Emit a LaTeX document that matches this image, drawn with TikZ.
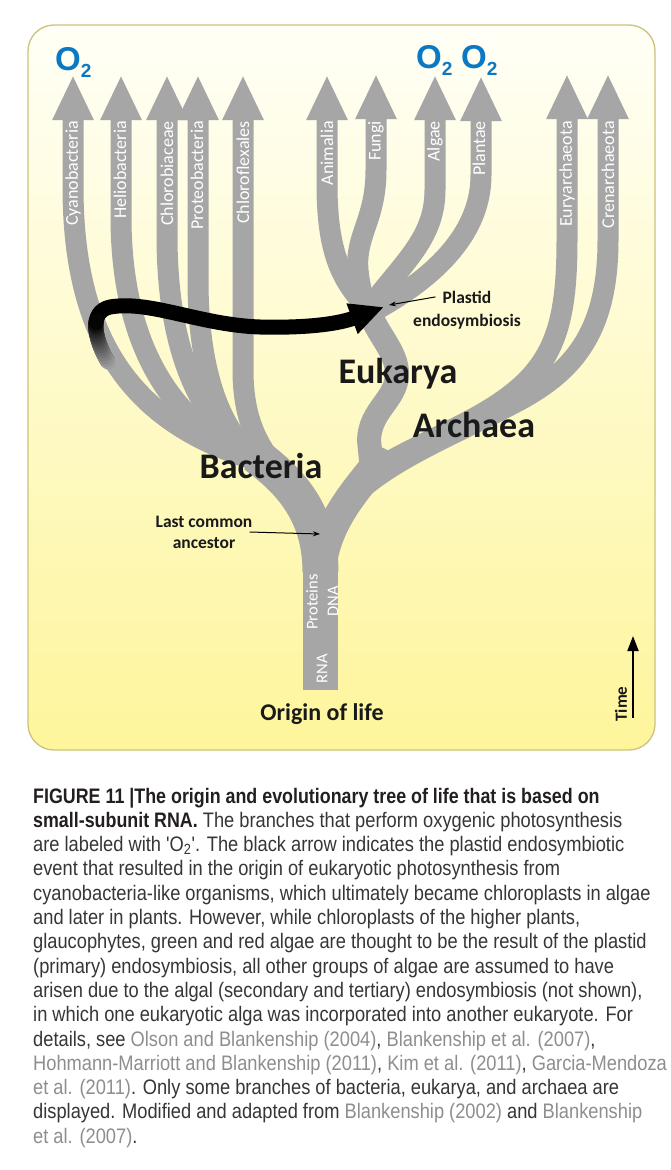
\documentclass[tikz,border=0pt]{standalone}
\usepackage{fontspec}
\setmainfont{Carlito}
\newfontfamily\capfont{Liberation Sans}[FakeStretch=0.87, BoldFeatures={FakeStretch=0.85}]
\newfontfamily\oxfont{Liberation Sans}
\usetikzlibrary{arrows.meta}
\definecolor{branchgray}{HTML}{A6A6A6}
\definecolor{oxblue}{HTML}{0A78C3}
\definecolor{boxline}{HTML}{CBC37C}
\definecolor{boxtop}{HTML}{FFFFF7}
\definecolor{boxbottom}{HTML}{FEF59B}
\definecolor{captext}{HTML}{363636}
\definecolor{capbold}{HTML}{231F20}
\definecolor{refgray}{HTML}{8E8E8E}
\newcommand{\refcite}[1]{\textcolor{refgray}{#1}}
\newcommand{\oxsub}{\raisebox{-7pt}{\fontsize{19}{19}\selectfont 2}}

\begin{document}
\begin{tikzpicture}[x=1pt, y=-1pt, >={Stealth[length=7pt,width=5pt]},
  lineage/.style={draw=branchgray, line width=21pt, line cap=round, {Triangle[length=45pt,width=38pt]}-},
  stem/.style={draw=branchgray, line cap=butt},
  taxon/.style={rotate=90, anchor=east, inner sep=0pt, text=white, font=\fontsize{18}{18}\selectfont},
  kingdom/.style={anchor=base, inner sep=0pt, text=black!90, font=\bfseries\fontsize{36}{36}\selectfont},
  note/.style={align=center, inner sep=1pt, text=black!90, font=\bfseries\fontsize{17.5}{21}\selectfont},
  oxy/.style={anchor=base west, inner sep=0pt, text=oxblue, font=\oxfont\bfseries\fontsize{33}{33}\selectfont},
  capline/.style={anchor=base west, inner sep=0pt, text=captext, font=\capfont\fontsize{21}{24}\selectfont}]
	% 1. 背景与黄色框
	\fill[white] (0,0) rectangle (671,1170);
	\useasboundingbox (0,0) rectangle (671,1170);
	\draw[draw=boxline, line width=1.3pt, rounded corners=26pt, top color=boxtop, bottom color=boxbottom] (28,25) rectangle (655,750);
	
	% 2. 主干与分叉
	\draw[stem, line width=35pt] (320.5,690) -- (320.5,560);
	\draw[stem, line width=36pt] (255,455) .. controls (292,482) and (320.5,515) .. (320.5,572);
	\draw[stem, line width=30pt, line cap=round] (320.5,575) .. controls (324,525) and (352,495) .. (378,462);
	\draw[stem, line width=24pt, line cap=round] (368,305) .. controls (372,330) and (398,350) .. (397,375) .. controls (396,400) and (370,410) .. (369,440) -- (372,470);
	
	% 3. 各分支 (细菌 / 真核 / 古菌)
	\draw[lineage] (73,75) -- (73,190) .. controls (74,360) and (150,430) .. (262,462);
	\draw[lineage] (121,75) -- (121,220) .. controls (122,350) and (175,430) .. (262,462);
	\draw[lineage] (167,75) -- (167,240) .. controls (168,360) and (205,430) .. (262,462);
	\draw[lineage] (198,75) -- (198,280) .. controls (198,380) and (225,440) .. (262,462);
	\draw[lineage] (243,75) -- (243,370) .. controls (243,430) and (265,455) .. (290,485);
	
	\draw[lineage] (327,75) -- (327,190) .. controls (328,250) and (340,280) .. (368,308);
	\draw[lineage] (376,74) -- (376,170) .. controls (376,220) and (355,235) .. (358,270) .. controls (360,290) and (364,300) .. (368,310);
	\draw[lineage] (435,75) -- (435,190) .. controls (435,240) and (400,265) .. (368,310);
	\draw[lineage] (481,76) -- (481,175) .. controls (481,230) and (440,275) .. (372,312);
	
	\draw[lineage] (567,74) -- (567,240) .. controls (567,350) and (545,385) .. (445,433) .. controls (415,448) and (390,460) .. (372,472);
	\draw[lineage] (608,74) -- (608,240) .. controls (608,330) and (575,370) .. (520,400) .. controls (460,432) and (400,455) .. (360,490);
	
	% 分支标签
	\node[taxon] (cyano) at (73,121) {Cyanobacteria};
	\node[taxon] (helio) at (120,121) {Heliobacteria};
	\node[taxon] (chlorobi) at (167,121) {Chlorobiaceae};
	\node[taxon] (proteo) at (197,121) {Proteobacteria};
	\node[taxon] (chloroflexi) at (243,121) {Chloroflexales};
	\node[taxon] (animalia) at (327,121) {Animalia};
	\node[taxon] (fungi) at (376,121) {Fungi};
	\node[taxon] (algae) at (435,121) {Algae};
	\node[taxon] (plantae) at (479,121) {Plantae};
	\node[taxon] (eury) at (567,121) {Euryarchaeota};
	\node[taxon] (cren) at (608,121) {Crenarchaeota};
	
	\node[taxon, anchor=center, font=\fontsize{16.5}{16.5}\selectfont] (proteins) at (312,602) {Proteins};
	\node[taxon, anchor=center, font=\fontsize{16.5}{16.5}\selectfont] (dna) at (333,601) {DNA};
	\node[taxon, anchor=center, font=\fontsize{16.5}{16.5}\selectfont] (rna) at (322,669) {RNA};
	
	% 4. O2 标记
	\node[oxy] (oxcyano) at (55,70) {O\oxsub};
	\node[oxy] (oxalgae) at (416,68) {O\oxsub};
	\node[oxy] (oxplantae) at (461,68) {O\oxsub};
	
	% 5. 质体内共生黑色箭头 (尾部渐变)
	\draw[line width=15pt, -{Triangle[length=34pt,width=30pt]}] (108,362) .. controls (95,340) and (88,312) .. (110,307) .. controls (150,300) and (200,325) .. (260,327) .. controls (300,328) and (335,325) .. (384,307);
	\path (108,362) .. controls (95,340) and (88,312) .. (110,307)
		coordinate[pos=0] (tail0) coordinate[pos=0.04] (tail1) coordinate[pos=0.08] (tail2) coordinate[pos=0.12] (tail3)
		coordinate[pos=0.16] (tail4) coordinate[pos=0.2] (tail5) coordinate[pos=0.24] (tail6) coordinate[pos=0.28] (tail7)
		coordinate[pos=0.32] (tail8) coordinate[pos=0.36] (tail9) coordinate[pos=0.4] (tail10) coordinate[pos=0.44] (tail11)
		coordinate[pos=0.48] (tail12) coordinate[pos=0.52] (tail13) coordinate[pos=0.56] (tail14) coordinate[pos=0.6] (tail15)
		coordinate[pos=0.64] (tail16);
	\foreach \k in {1,...,16} {
		\pgfmathtruncatemacro{\graylev}{min(100,34+4*\k)}
		\pgfmathtruncatemacro{\kbefore}{\k-1}
		\draw[line width=15pt, line cap=round, black!\graylev] (tail\kbefore) -- (tail\k);
	}
	
	% 6. 文字标注
	\node[kingdom] (bacteria) at (261,478) {Bacteria};
	\node[kingdom] (eukarya) at (398,383) {Eukarya};
	\node[kingdom] (archaea) at (474,437) {Archaea};
	
	\node[note, anchor=base] (plastidtop) at (467,303) {Plastid};
	\node[note, anchor=base] (plastidbot) at (467,326) {endosymbiosis};
	\coordinate (plastidtip) at (389,305);
	\draw[->, line width=1pt] ([xshift=-6pt]plastidtop.west) -- (plastidtip);
	
	\node[note] (lca) at (204,532) {Last common\\ancestor};
	\coordinate (lcatip) at (320,534);
	\draw[->, line width=1pt] ([xshift=-4pt]lca.east) -- (lcatip);
	
	\node[note, font=\bfseries\fontsize{24}{24}\selectfont, anchor=base] (origin) at (322,720) {Origin of life};
	
	\node[rotate=90, inner sep=0pt, text=black!90, font=\bfseries\fontsize{17}{17}\selectfont] (time) at (621,704) {Time};
	\coordinate (timestart) at (633,718);
	\coordinate (timeend) at (633,636);
	\draw[line width=2pt, -{Triangle[length=15pt,width=11pt]}] (timestart) -- (timeend);
	
	% 7. 图注
	\node[capline] (cap1) at (33,803) {\textcolor{capbold}{\bfseries FIGURE 11 |The origin and evolutionary tree of life that is based on}};
	\node[capline] (cap2) at (33,827.3) {\textcolor{capbold}{\bfseries small-subunit RNA.} The branches that perform oxygenic photosynthesis};
	\node[capline] (cap3) at (33,851.6) {are labeled with 'O\textsubscript{2}'. The black arrow indicates the plastid endosymbiotic};
	\node[capline] (cap4) at (33,875.9) {event that resulted in the origin of eukaryotic photosynthesis from};
	\node[capline] (cap5) at (33,900.2) {cyanobacteria-like organisms, which ultimately became chloroplasts in algae};
	\node[capline] (cap6) at (33,924.5) {and later in plants. However, while chloroplasts of the higher plants,};
	\node[capline] (cap7) at (33,948.8) {glaucophytes, green and red algae are thought to be the result of the plastid};
	\node[capline] (cap8) at (33,973.1) {(primary) endosymbiosis, all other groups of algae are assumed to have};
	\node[capline] (cap9) at (33,997.4) {arisen due to the algal (secondary and tertiary) endosymbiosis (not shown),};
	\node[capline] (cap10) at (33,1021.7) {in which one eukaryotic alga was incorporated into another eukaryote. For};
	\node[capline] (cap11) at (33,1046) {details, see \refcite{Olson and Blankenship (2004)}, \refcite{Blankenship et al. (2007)},};
	\node[capline] (cap12) at (33,1070.3) {\refcite{Hohmann-Marriott and Blankenship (2011)}, \refcite{Kim et al. (2011)}, \refcite{Garcia-Mendoza}};
	\node[capline] (cap13) at (33,1094.6) {\refcite{et al. (2011)}. Only some branches of bacteria, eukarya, and archaea are};
	\node[capline] (cap14) at (33,1118.9) {displayed. Modified and adapted from \refcite{Blankenship (2002)} and \refcite{Blankenship}};
	\node[capline] (cap15) at (33,1143.2) {\refcite{et al. (2007)}.};
\end{tikzpicture}
\end{document}
